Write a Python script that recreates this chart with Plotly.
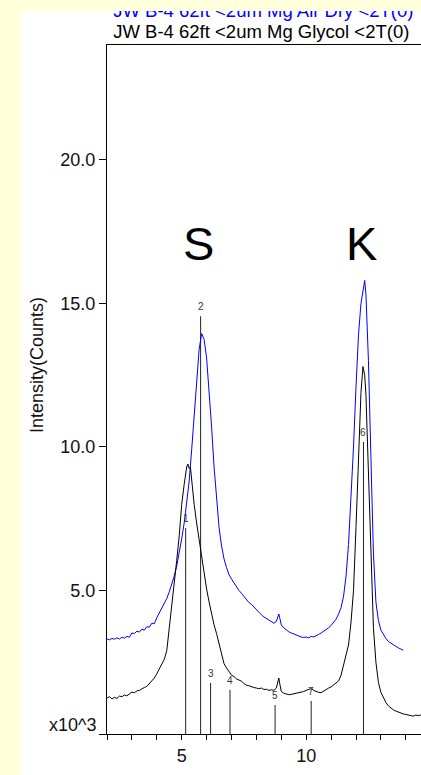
import plotly.graph_objects as go

# ---------------- data (2-theta degrees, intensity in thousands of counts) ----------------
air_dry_2theta = [2.0, 2.1, 2.2, 2.3, 2.4, 2.5, 2.6, 2.7, 2.8, 2.9, 3.0, 3.1, 3.2, 3.3, 3.4, 3.5, 3.6, 3.7,
                  3.8, 3.9, 4.0, 4.1, 4.2, 4.3, 4.4, 4.5, 4.6, 4.7, 4.8, 4.9, 5.0, 5.1, 5.2, 5.3, 5.4, 5.5,
                  5.6, 5.7, 5.8, 5.9, 6.0, 6.1, 6.2, 6.3, 6.4, 6.5, 6.6, 6.7, 6.8, 6.9, 7.0, 7.1, 7.2, 7.3,
                  7.4, 7.5, 7.6, 7.7, 7.8, 7.9, 8.0, 8.1, 8.2, 8.3, 8.4, 8.5, 8.6, 8.7, 8.8, 8.85, 8.9, 8.95,
                  9.0, 9.1, 9.2, 9.3, 9.4, 9.5, 9.6, 9.7, 9.8, 9.9, 10.0, 10.1, 10.2, 10.3, 10.4, 10.5, 10.6,
                  10.7, 10.8, 10.9, 11.0, 11.1, 11.2, 11.3, 11.4, 11.5, 11.6, 11.7, 11.8, 11.9, 12.0, 12.1,
                  12.2, 12.3, 12.35, 12.4, 12.5, 12.6, 12.7, 12.8, 12.9, 13.0, 13.1, 13.2, 13.3, 13.4, 13.5,
                  13.6, 13.7, 13.8, 13.9]
air_dry_counts = [3.31, 3.28, 3.33, 3.30, 3.35, 3.31, 3.37, 3.34, 3.40, 3.37, 3.52, 3.50, 3.58, 3.55, 3.65,
                  3.62, 3.74, 3.72, 3.86, 3.84, 4.05, 4.22, 4.40, 4.55, 4.72, 4.95, 5.20, 5.50, 5.85, 6.30,
                  6.80, 7.35, 8.00, 8.80, 9.90, 11.0, 12.3, 13.4, 13.95, 13.75, 13.1, 12.0, 10.7, 9.3, 8.1,
                  7.2, 6.55, 6.1, 5.8, 5.55, 5.4, 5.25, 5.12, 5.0, 4.9, 4.78, 4.70, 4.58, 4.52, 4.42, 4.35,
                  4.22, 4.15, 4.08, 4.02, 3.95, 3.90, 3.86, 3.92, 4.10, 4.18, 4.00, 3.80, 3.70, 3.62, 3.56,
                  3.52, 3.48, 3.44, 3.42, 3.38, 3.36, 3.38, 3.35, 3.40, 3.38, 3.44, 3.47, 3.52, 3.58, 3.62,
                  3.70, 3.78, 3.88, 4.00, 4.18, 4.40, 4.80, 5.50, 6.60, 8.20, 10.0, 12.1, 13.9, 15.0, 15.65,
                  15.8, 15.3, 13.0, 9.6, 6.3, 4.6, 3.95, 3.62, 3.45, 3.33, 3.22, 3.16, 3.10, 3.06, 3.00,
                  2.96, 2.92]

glycol_2theta = [2.0, 2.1, 2.2, 2.3, 2.4, 2.5, 2.6, 2.7, 2.8, 2.9, 3.0, 3.1, 3.2, 3.3, 3.4, 3.5, 3.6, 3.7,
                 3.8, 3.9, 4.0, 4.1, 4.2, 4.3, 4.4, 4.5, 4.6, 4.7, 4.8, 4.9, 5.0, 5.1, 5.2, 5.25, 5.3, 5.35,
                 5.4, 5.5, 5.6, 5.7, 5.8, 5.9, 6.0, 6.1, 6.2, 6.3, 6.4, 6.5, 6.6, 6.7, 6.8, 6.9, 7.0, 7.1,
                 7.2, 7.3, 7.4, 7.5, 7.6, 7.7, 7.8, 7.9, 8.0, 8.1, 8.2, 8.3, 8.4, 8.5, 8.6, 8.7, 8.8, 8.85,
                 8.9, 8.95, 9.0, 9.1, 9.2, 9.3, 9.4, 9.5, 9.6, 9.7, 9.8, 9.9, 10.0, 10.1, 10.2, 10.3, 10.4,
                 10.5, 10.6, 10.7, 10.8, 10.9, 11.0, 11.1, 11.2, 11.3, 11.4, 11.5, 11.6, 11.7, 11.8, 11.9,
                 12.0, 12.1, 12.2, 12.28, 12.35, 12.4, 12.5, 12.6, 12.7, 12.8, 12.9, 13.0, 13.1, 13.2, 13.3,
                 13.4, 13.5, 13.6, 13.7, 13.8, 13.9, 14.0, 14.1, 14.2, 14.3, 14.4, 14.5, 14.6, 14.7]
glycol_counts = [1.25, 1.30, 1.22, 1.28, 1.24, 1.32, 1.30, 1.36, 1.33, 1.38, 1.46, 1.44, 1.50, 1.52, 1.58,
                 1.62, 1.66, 1.75, 1.85, 1.95, 2.10, 2.28, 2.45, 2.60, 2.90, 3.65, 4.55, 5.30, 6.05, 6.90,
                 8.00, 8.70, 9.30, 9.40, 9.25, 9.30, 8.80, 8.00, 7.35, 6.75, 6.15, 5.60, 5.05, 4.60, 4.15,
                 3.80, 3.50, 3.15, 2.70, 2.45, 2.30, 2.15, 2.05, 2.00, 1.92, 1.88, 1.84, 1.76, 1.70, 1.68,
                 1.64, 1.62, 1.60, 1.58, 1.60, 1.55, 1.56, 1.52, 1.54, 1.52, 1.60, 1.85, 1.95, 1.70, 1.48,
                 1.42, 1.40, 1.37, 1.38, 1.40, 1.42, 1.44, 1.45, 1.48, 1.52, 1.55, 1.58, 1.52, 1.48, 1.45,
                 1.44, 1.50, 1.55, 1.60, 1.64, 1.70, 1.76, 1.85, 2.05, 2.40, 2.75, 3.10, 3.90, 5.00, 7.20,
                 9.80, 11.9, 12.8, 12.5, 11.8, 9.2, 6.0, 3.7, 2.5, 1.8, 1.45, 1.25, 1.10, 0.98, 0.90, 0.84,
                 0.80, 0.76, 0.73, 0.70, 0.68, 0.66, 0.64, 0.62, 0.66, 0.64, 0.66, 0.65]

peak_positions = [5.16, 5.76, 6.16, 6.94, 8.75, 10.2, 12.3]
peak_heights = [7.17, 14.55, 1.78, 1.54, 1.01, 1.15, 10.17]
peak_labels = ["1", "2", "3", "4", "5", "7", "6"]

series_names = ["JW B-4 62ft <2um Mg Air Dry <2T(0)", "JW B-4 62ft <2um Mg Glycol <2T(0)"]
series_colors = ["#0000FF", "#000000"]

mineral_labels = ["S", "K"]
mineral_x = [5.69, 12.24]
mineral_y = [17.1, 17.1]

y_tickvals = [0, 5, 10, 15, 20]
y_ticktext = ["", "5.0", "10.0", "15.0", "20.0"]
x_tickvals = [5, 10]
x_ticktext = ["5", "10"]

# ---------------- layout constants ----------------
W, H = 421, 775
ML, MR, MT, MB = 107, 0, 11, 41
PW = W - ML - MR
PH = H - MT - MB
main_top_px = 45
ydom_top = (H - MB - main_top_px) / PH
X_RANGE = [2, 2 + PW / 24.9]
FONT = "Arial, Liberation Sans, sans-serif"
TICK_FONT = dict(family=FONT, size=18, color="#111111")

fig = go.Figure()

# peak sticks
sx, sy = [], []
for p, h in zip(peak_positions, peak_heights):
    sx += [p, p, None]
    sy += [0, h, None]
fig.add_trace(go.Scatter(x=sx, y=sy, mode="lines", line=dict(color="#222222", width=1),
                         hoverinfo="skip", showlegend=False))

fig.add_trace(go.Scatter(x=air_dry_2theta, y=air_dry_counts, mode="lines",
                         line=dict(color=series_colors[0], width=1), name=series_names[0],
                         showlegend=False))
fig.add_trace(go.Scatter(x=glycol_2theta, y=glycol_counts, mode="lines",
                         line=dict(color=series_colors[1], width=1), name=series_names[1],
                         showlegend=False))

# header texts (clipped at top of white panel)
header_y = [0.97, 0.33]
for name, col, yy in zip(series_names, series_colors, header_y):
    fig.add_trace(go.Scatter(x=[0.02], y=[yy], mode="text", text=[name], textposition="middle right",
                             textfont=dict(family=FONT, size=18.5, color=col), cliponaxis=True,
                             xaxis="x2", yaxis="y2", hoverinfo="skip", showlegend=False))

annotations = []
for p, h, lab in zip(peak_positions, peak_heights, peak_labels):
    annotations.append(dict(x=p, y=h, xref="x", yref="y", text=lab, showarrow=False,
                            yanchor="bottom", yshift=2, font=dict(family=FONT, size=10, color="#333333")))
for lab, mx, my in zip(mineral_labels, mineral_x, mineral_y):
    annotations.append(dict(x=mx, y=my, xref="x", yref="y", text=lab, showarrow=False,
                            font=dict(family=FONT, size=47, color="black")))
annotations.append(dict(x=-9 / PW, y=0, xref="paper", yref="paper", text="x10^3", showarrow=False,
                        xanchor="right", yanchor="bottom", yshift=-3,
                        font=TICK_FONT))
annotations.append(dict(x=(25 - ML) / PW, y=(H - MB - 365) / PH, xref="paper", yref="paper",
                        text="Intensity(Counts)", textangle=-90, showarrow=False,
                        font=TICK_FONT))

shapes = [dict(type="rect", xref="paper", yref="paper", x0=(21 - ML) / PW, x1=1.0,
               y0=-MB / PH - 0.01, y1=1.0, fillcolor="white", line=dict(width=0), layer="below")]

fig.update_layout(
    width=W, height=H,
    margin=dict(l=ML, r=MR, t=MT, b=MB, pad=0),
    paper_bgcolor="#FFFFDC",
    plot_bgcolor="rgba(0,0,0,0)",
    showlegend=False,
    font=dict(family=FONT, size=18, color="#111111"),
    xaxis=dict(range=X_RANGE, domain=[0, 1], anchor="y", tickmode="array", tickvals=x_tickvals,
               ticktext=x_ticktext, ticks="outside", ticklen=5, tickcolor="black", showline=True,
               linecolor="black", linewidth=1, mirror=True, showgrid=False, zeroline=False,
               tickfont=TICK_FONT,
               minor=dict(dtick=1, tick0=0, ticks="outside", ticklen=5, tickcolor="black", showgrid=False)),
    yaxis=dict(range=[0, 24], domain=[0, ydom_top], anchor="x", tickmode="array", tickvals=y_tickvals,
               ticktext=y_ticktext, ticks="outside", ticklen=7, tickcolor="black", showline=True,
               linecolor="black", linewidth=1, showgrid=False, zeroline=False,
               tickfont=TICK_FONT),
    xaxis2=dict(range=[0, 1], domain=[0, 1], anchor="y2", visible=False, fixedrange=True),
    yaxis2=dict(range=[0, 1], domain=[ydom_top, 1], anchor="x2", visible=False, fixedrange=True),
    annotations=annotations,
    shapes=shapes,
)

fig.write_html("out.html")
